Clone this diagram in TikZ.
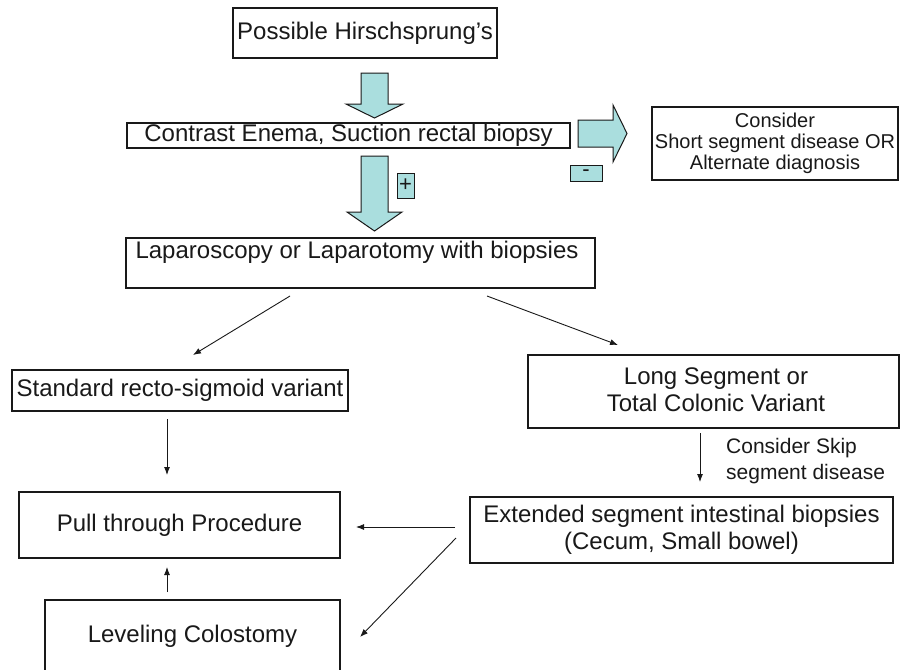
\documentclass[tikz,border=0pt]{standalone}
\usepackage{fontspec}
\setmainfont{Liberation Sans}
\usetikzlibrary{arrows.meta}
\definecolor{blockfill}{RGB}{170,222,222}
\definecolor{ink}{RGB}{25,25,25}
\begin{document}
\begin{tikzpicture}[x=1pt,y=-1pt,
  box/.style={draw=ink,line width=1.2pt,rectangle,inner sep=0pt,text=ink,
    font=\fontsize{24}{27}\selectfont,align=center},
  txt/.style={inner sep=0pt,text=ink,font=\fontsize{24}{27}\selectfont,align=center},
  smalltxt/.style={inner sep=0pt,text=ink,font=\fontsize{20}{22}\selectfont,align=center},
  lbl/.style={inner sep=0pt,text=ink,font=\fontsize{21}{26}\selectfont,align=left},
  conn/.style={draw=ink,line width=0.9pt,-{Latex[length=8pt,width=6pt]}},
  blockarrow/.style={fill=blockfill,draw=ink,line width=1pt,line join=miter},
  signbox/.style={fill=blockfill,draw=ink,line width=1pt,inner sep=0pt,
    font=\fontsize{22}{22}\selectfont,text=ink}]
\useasboundingbox (0,0) rectangle (901,669);
\fill[white] (0,0) rectangle (901,669);

% boxes
\node[box,minimum width=264pt,minimum height=50pt] (hirs) at (365,33) {Possible Hirschsprung's};
\node[box,minimum width=443pt,minimum height=25pt] (contrast) at (348.5,135.5) {Contrast Enema, Suction rectal biopsy};
\node[box,minimum width=246pt,minimum height=73pt] (consider) at (775,143.5) {};
\node[smalltxt] (considertxt) at (775,143.5) {Consider\\[-1pt]Short segment disease OR\\[-1pt]Alternate diagnosis};
\node[box,minimum width=469pt,minimum height=50pt] (lap) at (360.5,263) {};
\node[txt,anchor=base] (laptxt) at (357,258) {Laparoscopy or Laparotomy with biopsies};
\node[box,minimum width=336pt,minimum height=41pt] (std) at (180,390.5) {Standard recto-sigmoid variant};
\node[box,minimum width=371pt,minimum height=73pt] (long) at (713.5,391.5) {};
\node[txt] (longtxt) at (716,389.5) {Long Segment or\\Total Colonic Variant};
\node[box,minimum width=321pt,minimum height=66pt] (pull) at (179.5,525) {Pull through Procedure};
\node[box,minimum width=423pt,minimum height=66pt] (ext) at (681.5,530) {Extended segment intestinal biopsies\\(Cecum, Small bowel)};
\node[box,minimum width=295pt,minimum height=72pt] (lev) at (192.5,636) {Leveling Colostomy};

% block arrows
\draw[blockarrow] (361,73) -- (388,73) -- (388,104) -- (403,104) -- (374.5,118)
  -- (346,104) -- (361,104) -- cycle;
\draw[blockarrow] (361,156) -- (388,156) -- (388,212) -- (402,212) -- (374.5,231)
  -- (347,212) -- (361,212) -- cycle;
\draw[blockarrow] (578,120) -- (613,120) -- (613,105) -- (627,133.5) -- (613,162)
  -- (613,147) -- (578,147) -- cycle;
\node[signbox,minimum width=17pt,minimum height=25pt] (plus) at (405.5,185.5) {+};
\node[signbox,minimum width=32pt,minimum height=16pt] (minus) at (586,173) {-};

% connector end points
\coordinate (d1s) at (290,296);  \coordinate (d1e) at (193,355);
\coordinate (d2s) at (487,296);  \coordinate (d2e) at (618,345);
\coordinate (a1s) at (167,419);  \coordinate (a1e) at (167,475);
\coordinate (a2s) at (700,433);  \coordinate (a2e) at (700,482);
\coordinate (a3s) at (455,527);  \coordinate (a3e) at (356,527);
\coordinate (a4s) at (456,538);  \coordinate (a4e) at (360,637);
\coordinate (a5s) at (167,592);  \coordinate (a5e) at (167,567);

\draw[conn] (d1s) -- (d1e);
\draw[conn] (d2s) -- (d2e);
\draw[conn] (a1s) -- (a1e);
\draw[conn] (a2s) -- (a2e);
\draw[conn] (a3s) -- (a3e);
\draw[conn] (a4s) -- (a4e);
\draw[conn] (a5s) -- (a5e);

\node[lbl,anchor=west] (skip) at (726,461) {Consider Skip\\segment disease};
\end{tikzpicture}
\end{document}
